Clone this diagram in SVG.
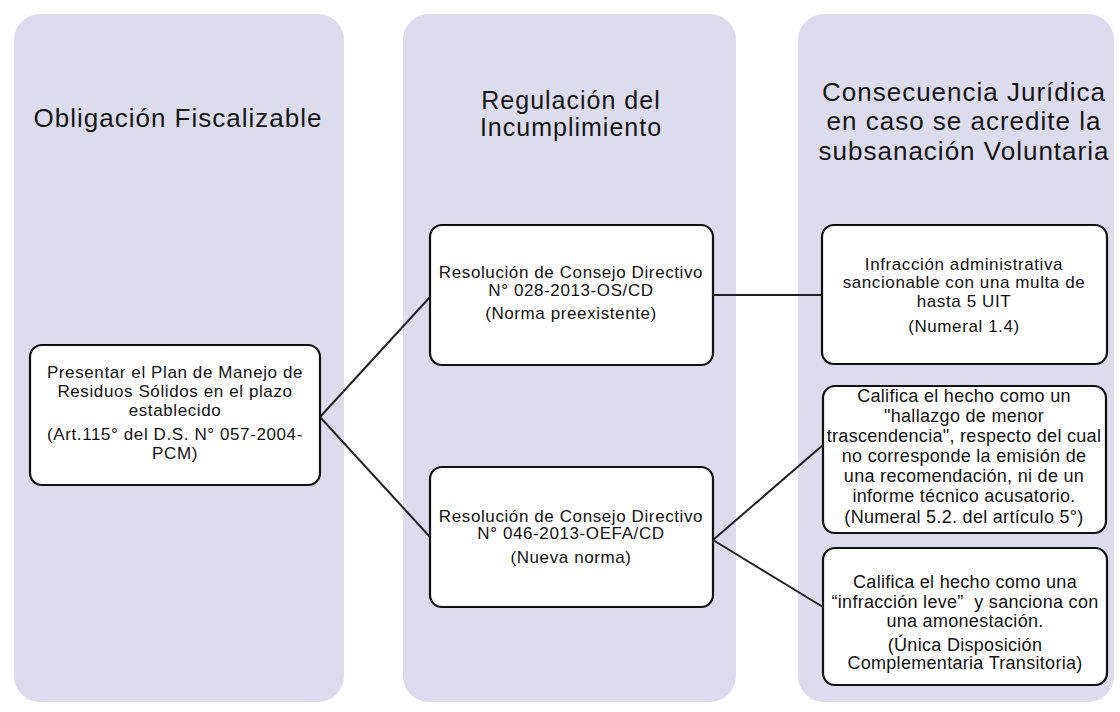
<svg xmlns="http://www.w3.org/2000/svg" width="1120" height="712" viewBox="0 0 1120 712">
<style>
.panel{fill:#dcdcec;stroke:none}
.box{fill:#ffffff;stroke:#111;stroke-width:2.2}
.title{font-family:"Liberation Sans",Arial,sans-serif;font-size:26px;letter-spacing:1px;fill:#151515;text-anchor:middle}
.t{font-family:"Liberation Sans",Arial,sans-serif;font-size:17px;letter-spacing:0.6px;fill:#111;text-anchor:middle}
.t2{font-family:"Liberation Sans",Arial,sans-serif;font-size:18px;letter-spacing:0.3px;fill:#111;text-anchor:middle}
.conn{stroke:#222;stroke-width:2;fill:none}
</style>
<rect width="1120" height="712" fill="#ffffff"/>
<g id="panels">
<rect class="panel" x="14" y="14" width="330" height="688" rx="26"/>
<rect class="panel" x="403" y="14" width="333" height="688" rx="26"/>
<rect class="panel" x="798" y="14" width="316" height="688" rx="26"/>
<text class="title" x="178" y="127">Obligación Fiscalizable</text>
<text class="title" x="571" y="109" style="font-size:25px">Regulación del</text>
<text class="title" x="571" y="136" style="font-size:25px">Incumplimiento</text>
<text class="title" x="964" y="101">Consecuencia Jurídica</text>
<text class="title" x="964" y="130">en caso se acredite la</text>
<text class="title" x="964" y="160">subsanación Voluntaria</text>
</g>
<g id="connectors">
<line class="conn" x1="320" y1="417" x2="430" y2="297"/>
<line class="conn" x1="320" y1="417" x2="430" y2="537"/>
<line class="conn" x1="713" y1="295" x2="822" y2="295"/>
<line class="conn" x1="713" y1="540" x2="823" y2="445"/>
<line class="conn" x1="713" y1="540" x2="823" y2="607"/>
</g>
<g id="n1">
<rect class="box" x="30" y="345" width="290" height="140" rx="12"/>
<text class="t" x="175" y="378">Presentar el Plan de Manejo de</text>
<text class="t" x="175" y="397">Residuos Sólidos en el plazo</text>
<text class="t" x="175" y="416">establecido</text>
<text class="t" x="175" y="440">(Art.115° del D.S. N° 057-2004-</text>
<text class="t" x="175" y="459">PCM)</text>
</g>
<g id="n2">
<rect class="box" x="430" y="225" width="283" height="140" rx="12"/>
<text class="t" x="571" y="278">Resolución de Consejo Directivo</text>
<text class="t" x="571" y="296">N° 028-2013-OS/CD</text>
<text class="t" x="571" y="319">(Norma preexistente)</text>
</g>
<g id="n3">
<rect class="box" x="430" y="467" width="283" height="140" rx="12"/>
<text class="t" x="571" y="522">Resolución de Consejo Directivo</text>
<text class="t" x="571" y="539">N° 046-2013-OEFA/CD</text>
<text class="t" x="571" y="563">(Nueva norma)</text>
</g>
<g id="n4">
<rect class="box" x="822" y="225" width="285" height="139" rx="12"/>
<text class="t" x="964" y="270">Infracción administrativa</text>
<text class="t" x="964" y="288">sancionable con una multa de</text>
<text class="t" x="964" y="307">hasta 5 UIT</text>
<text class="t" x="964" y="332">(Numeral 1.4)</text>
</g>
<g id="n5">
<rect class="box" x="823" y="386" width="283" height="147" rx="12"/>
<text class="t2" x="964" y="402">Califica el hecho como un</text>
<text class="t2" x="964" y="422">"hallazgo de menor</text>
<text class="t2" x="964" y="442">trascendencia", respecto del cual</text>
<text class="t2" x="964" y="462">no corresponde la emisión de</text>
<text class="t2" x="964" y="482">una recomendación, ni de un</text>
<text class="t2" x="964" y="502">informe técnico acusatorio.</text>
<text class="t2" x="964" y="523">(Numeral 5.2. del artículo 5°)</text>
</g>
<g id="n6">
<rect class="box" x="823" y="548" width="284" height="137" rx="12"/>
<text class="t2" x="965" y="588">Califica el hecho como una</text>
<text class="t2" x="965" y="608">“infracción leve”&#160; y sanciona con</text>
<text class="t2" x="965" y="627">una amonestación.</text>
<text class="t2" x="965" y="651">(Única Disposición</text>
<text class="t2" x="965" y="669">Complementaria Transitoria)</text>
</g>
</svg>
